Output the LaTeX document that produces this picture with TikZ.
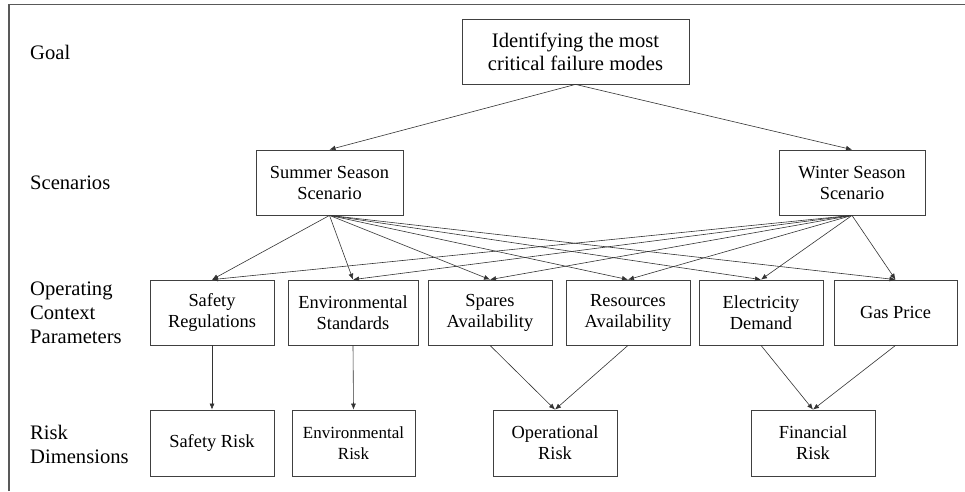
\documentclass[tikz,border=0pt]{standalone}
\usepackage{fontspec}
\setmainfont{Liberation Serif}
\usetikzlibrary{arrows.meta}
\begin{document}
\begin{tikzpicture}[x=1pt,y=-1pt,
  box/.style={draw=black!75,line width=0.8pt,inner sep=0pt,align=center,
    font=\fontsize{18.4}{21}\selectfont},
  goalbox/.style={box,font=\fontsize{20.6}{23}\selectfont},
  tier/.style={anchor=west,align=left,inner sep=0pt,
    font=\fontsize{20.6}{24}\selectfont},
  link/.style={draw=black!80,line width=0.6pt,-{Latex[length=6pt,width=5pt]}}]
\useasboundingbox (0,0) rectangle (965,491);
% frame edges
\draw[black!65,line width=1.2pt] (9,491) -- (9,4.7) -- (965,4.7);

% tier labels
\node[tier] (lgoal) at (30,52) {Goal};
\node[tier] (lscen) at (30,183) {Scenarios};
\node[tier] (lpar) at (30,313) {Operating\\Context\\Parameters};
\node[tier] (lrisk) at (30,444) {Risk\\Dimensions};

% goal
\node[goalbox,minimum width=227,minimum height=65] (goal) at (575.5,51.5)
  {Identifying the most\\critical failure modes};

% scenarios
\node[box,minimum width=147,minimum height=65] (summer) at (329.5,182.5)
  {Summer Season\\Scenario};
\node[box,minimum width=146,minimum height=65] (winter) at (852,182.5)
  {Winter Season\\Scenario};

% operating context parameters
\node[box,minimum width=124,minimum height=65] (sreg) at (212,312.5)
  {Safety\\Regulations};
\node[box,minimum width=130,minimum height=65] (envs) at (353,312.5)
  {Environmental\\Standards};
\node[box,minimum width=124,minimum height=65] (spares) at (490,312.5)
  {Spares\\Availability};
\node[box,minimum width=124,minimum height=65] (res) at (628,312.5)
  {Resources\\Availability};
\node[box,minimum width=124,minimum height=65] (elec) at (761,312.5)
  {Electricity\\Demand};
\node[box,minimum width=123,minimum height=65] (gas) at (895.5,312.5)
  {Gas Price};

% risk dimensions
\node[box,minimum width=124,minimum height=66] (srisk) at (212,443)
  {Safety Risk};
\node[box,minimum width=123,minimum height=66,
  font=\fontsize{17}{21}\selectfont] (erisk) at (353.5,443)
  {Environmental\\Risk};
\node[box,minimum width=124,minimum height=66] (orisk) at (555,443)
  {Operational\\Risk};
\node[box,minimum width=124,minimum height=66] (frisk) at (813,443)
  {Financial\\Risk};

% goal to scenarios
\draw[link] (goal.south) -- (summer.north);
\draw[link] (goal.south) -- (winter.north);

% scenarios to parameters
\foreach \p in {sreg,envs,spares,res,elec,gas}{
  \draw[link] (summer.south) -- (\p.north);
  \draw[link] (winter.south) -- (\p.north);
}

% parameters to risk dimensions
\draw[link] (sreg.south) -- (srisk.north);
\draw[link] (envs.south) -- (erisk.north);
\draw[link] (spares.south) -- (orisk.north);
\draw[link] (res.south) -- (orisk.north);
\draw[link] (elec.south) -- (frisk.north);
\draw[link] (gas.south) -- (frisk.north);
\end{tikzpicture}
\end{document}
